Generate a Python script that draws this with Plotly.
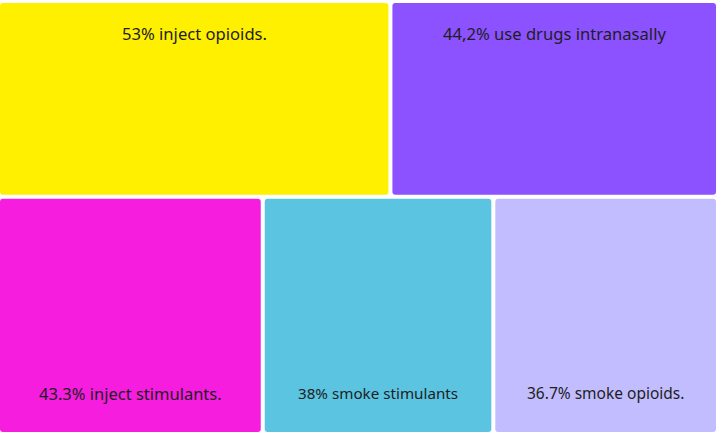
import plotly.graph_objects as go

# Share of respondents by route of drug use
labels = [
    "53% inject opioids.",
    "44,2% use drugs intranasally",
    "43.3% inject stimulants.",
    "38% smoke stimulants",
    "36.7% smoke opioids.",
]
values = [53.0, 44.2, 43.3, 38.0, 36.7]
colors = ["#FFF000", "#8C52FF", "#F61DDF", "#5BC4E1", "#C2BDFF"]
font_sizes = [16.6, 16.6, 16.5, 15.2, 15.5]
rows = [[0, 1], [2, 3, 4]]  # tile indices per row, top row first

W_PX, H_PX = 716, 432
TOP_PAD = 3
GAP = 4  # white gutter between tiles, px

total = sum(values)
plot_h = H_PX - TOP_PAD
gx = GAP / W_PX
gy = GAP / plot_h

xs, widths, bases, heights, cols = [], [], [], [], []
annotations = []
y_top = 1.0
for r, row in enumerate(rows):
    row_sum = sum(values[i] for i in row)
    row_h = row_sum / total
    y_bot = y_top - row_h
    x0 = 0.0
    for k, i in enumerate(row):
        w = values[i] / row_sum
        left = x0 + (gx / 2 if k > 0 else 0)
        right = x0 + w - (gx / 2 if k < len(row) - 1 else 0)
        bottom = y_bot + (gy / 2 if r < len(rows) - 1 else 0)
        top = y_top - (gy / 2 if r > 0 else 0)
        xs.append((left + right) / 2)
        widths.append(right - left)
        bases.append(bottom)
        heights.append(top - bottom)
        cols.append(colors[i])
        font = dict(family="Noto Sans", size=font_sizes[i], color="#1e1e1e")
        if r == 0:
            annotations.append(dict(
                x=(left + right) / 2, y=top, yanchor="middle", yshift=-30,
                text=labels[i], showarrow=False, font=font,
            ))
        else:
            annotations.append(dict(
                x=(left + right) / 2, y=bottom, yanchor="middle", yshift=39,
                text=labels[i], showarrow=False, font=font,
            ))
        x0 += w
    y_top = y_bot

fig = go.Figure(go.Bar(
    x=xs, width=widths, base=bases, y=heights,
    marker=dict(color=cols, line=dict(width=0), cornerradius=3),
    hoverinfo="skip",
))
fig.update_layout(
    width=W_PX, height=H_PX,
    margin=dict(l=0, r=0, t=TOP_PAD, b=0),
    paper_bgcolor="white", plot_bgcolor="white",
    barmode="overlay", showlegend=False,
    xaxis=dict(range=[0, 1], visible=False, fixedrange=True),
    yaxis=dict(range=[0, 1], visible=False, fixedrange=True),
    annotations=annotations,
)
fig.write_html("out.html", config={"displayModeBar": False})
